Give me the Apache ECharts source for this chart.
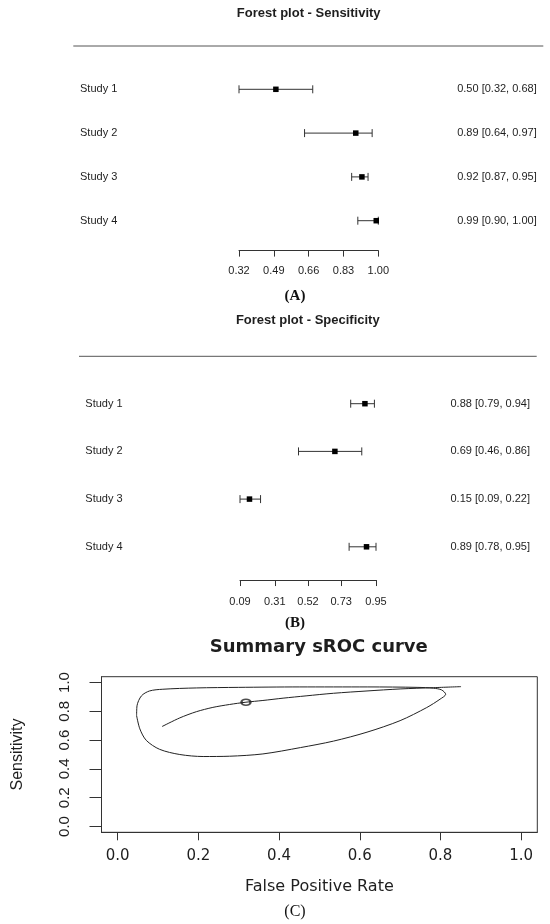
<!DOCTYPE html>
<html><head><meta charset="utf-8">
<script src="https://cdn.jsdelivr.net/npm/echarts@6/dist/echarts.min.js"></script>
<style>html,body{margin:0;padding:0;background:#fff}#c{width:550px;height:924px}</style>
</head><body><div id="c"></div>
<script>
// ---- data ----
const studies = ['Study 1', 'Study 2', 'Study 3', 'Study 4'];
const sensEst = [0.50, 0.89, 0.92, 0.99];
const sensLo  = [0.32, 0.64, 0.87, 0.90];
const sensHi  = [0.68, 0.97, 0.95, 1.00];
const sensTicks = [0.32, 0.49, 0.66, 0.83, 1.00];
const specEst = [0.88, 0.69, 0.15, 0.89];
const specLo  = [0.79, 0.46, 0.09, 0.78];
const specHi  = [0.94, 0.86, 0.22, 0.95];
const specTicks = [0.09, 0.31, 0.52, 0.73, 0.95];
const rocTicks = [0.0, 0.2, 0.4, 0.6, 0.8, 1.0];
const summaryFpr = [0.318];
const summarySens = [0.863];
const srocFpr  = [0.110, 0.154, 0.195, 0.236, 0.277, 0.318, 0.360, 0.410, 0.467, 0.535, 0.618, 0.700, 0.783, 0.851];
const srocSens = [0.694, 0.754, 0.797, 0.827, 0.847, 0.863, 0.875, 0.891, 0.907, 0.925, 0.941, 0.955, 0.964, 0.971];
const ellFpr  = [0.047, 0.048, 0.059, 0.079, 0.112, 0.195, 0.300, 0.450, 0.620, 0.742, 0.783, 0.803, 0.813, 0.799, 0.766, 0.700, 0.618, 0.535, 0.453, 0.360, 0.277, 0.212, 0.154, 0.104, 0.071, 0.055, 0.047];
const ellSens = [0.770, 0.838, 0.907, 0.941, 0.953, 0.962, 0.966, 0.969, 0.969, 0.966, 0.960, 0.948, 0.918, 0.884, 0.826, 0.735, 0.655, 0.593, 0.548, 0.504, 0.488, 0.486, 0.500, 0.536, 0.598, 0.678, 0.770];

// ---- helpers ----
const f2 = v => v.toFixed(2);
const ciText = (e, l, h) => e.map((v, i) => `${f2(v)} [${f2(l[i])}, ${f2(h[i])}]`);
const forestData = (e, l, h) => e.map((v, i) => [v, l[i], h[i], i]);
const zip = (a, b) => a.map((v, i) => [v, b[i]]);
const SANS = 'Liberation Sans';
const TXT = '#1e1e1e';
const LINE = '#333';

function forestItem(params, api) {
  const idx = api.value(3);
  const pe = api.coord([api.value(0), idx]);
  const pl = api.coord([api.value(1), idx]);
  const ph = api.coord([api.value(2), idx]);
  const cap = 4, s = 5.5;
  const st = { stroke: LINE, lineWidth: 1 };
  return {
    type: 'group',
    children: [
      { type: 'line', shape: { x1: pl[0], y1: pl[1], x2: ph[0], y2: ph[1] }, style: st },
      { type: 'line', shape: { x1: pl[0], y1: pl[1] - cap, x2: pl[0], y2: pl[1] + cap }, style: st },
      { type: 'line', shape: { x1: ph[0], y1: ph[1] - cap, x2: ph[0], y2: ph[1] + cap }, style: st },
      { type: 'rect', shape: { x: pe[0] - s / 2, y: pe[1] - s / 2, width: s, height: s }, style: { fill: '#000' } }
    ]
  };
}

function forestX(gi, ticks, min, max, offset, margin) {
  return {
    type: 'value', gridIndex: gi, min: min, max: max, position: 'bottom', offset: offset,
    splitLine: { show: false },
    axisLine: { show: true, onZero: false, lineStyle: { color: LINE, width: 1 } },
    axisTick: { show: true, customValues: ticks, length: 6, lineStyle: { color: LINE } },
    axisLabel: { customValues: ticks, formatter: v => v.toFixed(2), fontFamily: SANS, fontSize: 11, color: TXT, margin: margin }
  };
}
function forestY(gi, data, pos, align, margin) {
  return {
    type: 'category', gridIndex: gi, data: data, inverse: true, position: pos,
    axisLine: { show: false }, axisTick: { show: false }, splitLine: { show: false },
    axisLabel: { align: align, margin: margin, fontFamily: SANS, fontSize: 11, color: TXT }
  };
}

const chart = echarts.init(document.getElementById('c'));
chart.setOption({
  backgroundColor: '#fff',
  animation: false,
  title: [
    { text: 'Forest plot - Sensitivity', left: 308.7, top: 7, textAlign: 'center', padding: 0,
      textStyle: { fontFamily: SANS, fontWeight: 'bold', fontSize: 13, color: TXT } },
    { text: 'Forest plot - Specificity', left: 307.8, top: 314, textAlign: 'center', padding: 0,
      textStyle: { fontFamily: SANS, fontWeight: 'bold', fontSize: 13, color: TXT } },
    { text: 'Summary sROC curve', left: 318.8, top: 638, textAlign: 'center', padding: 0,
      textStyle: { fontFamily: 'DejaVu Sans', fontWeight: 'bold', fontSize: 18, color: TXT } }
  ],
  grid: [
    { left: 239, width: 139.3, top: 67.4, height: 175.2 },
    { left: 240, width: 136, top: 379.85, height: 190.8 },
    { left: 101.5, width: 435.8, top: 676.7, height: 155.6, show: true, borderColor: LINE, borderWidth: 1, backgroundColor: 'transparent' }
  ],
  xAxis: [
    forestX(0, sensTicks, 0.32, 1.00, 8, 15),
    forestX(1, specTicks, 0.09, 0.95, 9.4, 16),
    {
      type: 'value', gridIndex: 2, min: -0.04, max: 1.04, position: 'bottom',
      splitLine: { show: false },
      axisLine: { show: true, onZero: false, lineStyle: { color: LINE } },
      axisTick: { show: true, customValues: rocTicks, length: 8, lineStyle: { color: LINE } },
      axisLabel: { customValues: rocTicks, formatter: v => v.toFixed(1), fontFamily: 'DejaVu Sans', fontSize: 15, color: TXT, margin: 16 },
      name: 'False Positive Rate', nameLocation: 'middle', nameGap: 47,
      nameTextStyle: { fontFamily: 'DejaVu Sans', fontSize: 16, color: TXT }
    }
  ],
  yAxis: [
    forestY(0, studies, 'left', 'left', 159),
    forestY(0, ciText(sensEst, sensLo, sensHi), 'right', 'right', 158.4),
    forestY(1, studies, 'left', 'left', 154.7),
    forestY(1, ciText(specEst, specLo, specHi), 'right', 'right', 154),
    {
      type: 'value', gridIndex: 2, min: -0.04, max: 1.04, position: 'left',
      splitLine: { show: false },
      axisLine: { show: true, onZero: false, lineStyle: { color: LINE } },
      axisTick: { show: true, customValues: rocTicks, length: 12, lineStyle: { color: LINE } },
      axisLabel: { customValues: rocTicks, formatter: v => v.toFixed(1), rotate: 90, margin: 29,
        fontFamily: SANS, fontSize: 15, color: TXT },
      name: 'Sensitivity', nameLocation: 'middle', nameRotate: 90, nameGap: 76,
      nameTextStyle: { fontFamily: SANS, fontSize: 16, color: TXT }
    }
  ],
  series: [
    { type: 'custom', xAxisIndex: 0, yAxisIndex: 0, renderItem: forestItem, clip: false,
      encode: { x: [0, 1, 2], y: 3 }, data: forestData(sensEst, sensLo, sensHi) },
    { type: 'custom', xAxisIndex: 1, yAxisIndex: 2, renderItem: forestItem, clip: false,
      encode: { x: [0, 1, 2], y: 3 }, data: forestData(specEst, specLo, specHi) },
    { type: 'line', xAxisIndex: 2, yAxisIndex: 4, data: zip(ellFpr, ellSens), smooth: 0.3,
      showSymbol: false, symbol: 'none', lineStyle: { color: '#222', width: 1 } },
    { type: 'line', xAxisIndex: 2, yAxisIndex: 4, data: zip(srocFpr, srocSens), smooth: 0.3,
      showSymbol: false, symbol: 'none', lineStyle: { color: '#222', width: 1 } },
    { type: 'scatter', xAxisIndex: 2, yAxisIndex: 4, data: zip(summaryFpr, summarySens),
      symbol: 'emptyCircle', symbolSize: [9, 6], itemStyle: { color: '#222', borderColor: '#222', borderWidth: 1 } }
  ],
  graphic: [
    { type: 'line', shape: { x1: 73.3, y1: 46, x2: 543.3, y2: 46 }, style: { stroke: '#555', lineWidth: 1 } },
    { type: 'line', shape: { x1: 79, y1: 356.3, x2: 536.7, y2: 356.3 }, style: { stroke: '#555', lineWidth: 1 } },
    { type: 'text', x: 295, y: 296, style: { text: '(A)', align: 'center', verticalAlign: 'middle', font: 'bold 15px "Liberation Serif"', fill: '#111' } },
    { type: 'text', x: 295, y: 623.5, style: { text: '(B)', align: 'center', verticalAlign: 'middle', font: 'bold 15px "Liberation Serif"', fill: '#111' } },
    { type: 'text', x: 295, y: 912, style: { text: '(C)', align: 'center', verticalAlign: 'middle', font: '16px "Liberation Serif"', fill: '#111' } }
  ]
});
</script></body></html>
